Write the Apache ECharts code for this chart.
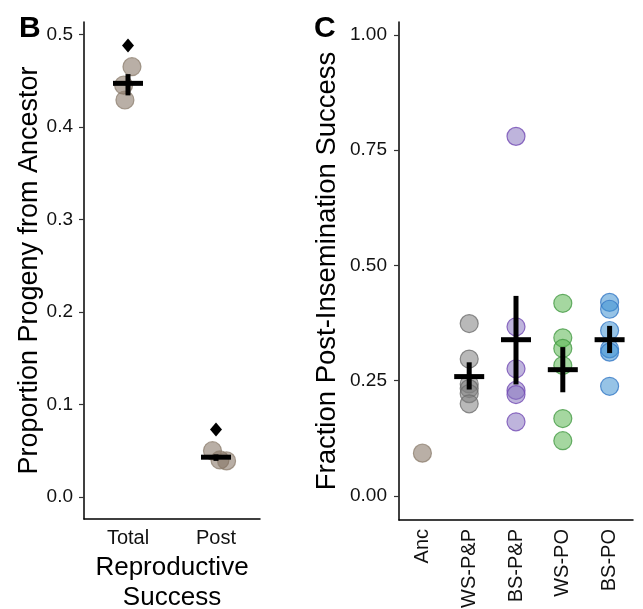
<!DOCTYPE html>
<html>
<head>
<meta charset="utf-8">
<script src="https://cdn.jsdelivr.net/npm/echarts@6/dist/echarts.min.js"></script>
<style>html,body{margin:0;padding:0;background:#fff;}#c{width:643px;height:609px;}</style>
</head>
<body>
<div id="c"></div>
<script>
// ---- Panel B data ----
const bCategories = ['Total', 'Post'];
const bTotalVals = [0.465, 0.445, 0.429];
const bTotalJitter = [0.045, -0.05, -0.035];
const bPostVals = [0.050, 0.040, 0.039];
const bPostJitter = [-0.04, 0.045, 0.12];
const bDiamondVals = [0.488, 0.073];
const bMeans = [0.447, 0.043];
const bLow = [0.434, 0.039];
const bHigh = [0.457, 0.046];
const bYTicks = [0, 0.1, 0.2, 0.3, 0.4, 0.5];

// ---- Panel C data ----
const cCategories = ['Anc', 'WS-P&P', 'BS-P&P', 'WS-PO', 'BS-PO'];
const cAnc = [0.093];
const cWSPP = [0.374, 0.297, 0.243, 0.233, 0.222, 0.200];
const cBSPP = [0.780, 0.367, 0.276, 0.229, 0.220, 0.161];
const cWSPO = [0.418, 0.343, 0.320, 0.283, 0.168, 0.120];
const cBSPO = [0.420, 0.405, 0.359, 0.319, 0.312, 0.238];
const cMeans = [0.259, 0.339, 0.274, 0.339];
const cLow = [0.231, 0.242, 0.225, 0.310];
const cHigh = [0.290, 0.434, 0.323, 0.369];
const cMeanCats = ['WS-P&P', 'BS-P&P', 'WS-PO', 'BS-PO'];
const cYTicks = [0, 0.25, 0.5, 0.75, 1.0];

const FONT = 'Liberation Sans, Arial, Helvetica, sans-serif';
const chart = echarts.init(document.getElementById('c'), null, {renderer: 'canvas'});

function crossRender(halfW) {
  return function (params, api) {
    const x = api.value(0), m = api.value(1), lo = api.value(2), hi = api.value(3);
    const c = api.coord([x, m]);
    const pl = api.coord([x, lo]);
    const ph = api.coord([x, hi]);
    const st = {stroke: '#000', lineWidth: 5, lineCap: 'butt'};
    return {
      type: 'group',
      children: [
        {type: 'line', shape: {x1: c[0], y1: pl[1], x2: c[0], y2: ph[1]}, style: st},
        {type: 'line', shape: {x1: c[0] - halfW, y1: c[1], x2: c[0] + halfW, y2: c[1]}, style: st}
      ]
    };
  };
}

function dotSeries(name, xIdx, yIdx, data, fill, border) {
  return {
    name: name, type: 'scatter', xAxisIndex: xIdx, yAxisIndex: yIdx,
    symbol: 'circle', symbolSize: 18, data: data,
    itemStyle: {color: fill, borderColor: border, borderWidth: 1.2, opacity: 1},
    emphasis: {disabled: true}, z: 2
  };
}

const axisLineStyle = {onZero: false, lineStyle: {color: '#000', width: 1.5}};
const tickStyle = {lineStyle: {color: '#333', width: 1.2}};
const yLabel = {color: '#111', fontSize: 19, fontFamily: FONT};
const xLabel = {color: '#111', fontSize: 20, fontFamily: FONT};

const tan = 'rgba(128,110,92,0.55)', tanB = 'rgba(140,125,110,0.75)';

const option = {
  animation: false,
  backgroundColor: '#fff',
  grid: [
    {left: 84, top: 22, width: 176, height: 497, containLabel: false, outerBoundsMode: 'none'},
    {left: 399, top: 22, width: 234, height: 498, containLabel: false, outerBoundsMode: 'none'}
  ],
  xAxis: [
    {
      type: 'category', gridIndex: 0, data: bCategories, boundaryGap: true,
      axisLine: axisLineStyle,
      axisTick: Object.assign({alignWithLabel: true, length: 5}, tickStyle),
      axisLabel: Object.assign({margin: 9}, xLabel),
      name: 'Reproductive\nSuccess', nameLocation: 'middle', nameGap: 31,
      nameTextStyle: {color: '#000', fontSize: 26, fontFamily: FONT, lineHeight: 30, verticalAlign: 'top'}
    },
    {
      type: 'category', gridIndex: 1, data: cCategories, boundaryGap: true,
      axisLine: axisLineStyle,
      axisTick: Object.assign({alignWithLabel: true, length: 5}, tickStyle),
      axisLabel: Object.assign({margin: 9, rotate: 90, interval: 0}, xLabel)
    },
    {type: 'value', gridIndex: 0, min: 0.5, max: 2.5, show: false}
  ],
  yAxis: [
    {
      type: 'value', gridIndex: 0, min: -0.0238, max: 0.5133,
      splitLine: {show: false},
      axisLine: Object.assign({show: true}, axisLineStyle),
      axisTick: Object.assign({show: true, length: 5, customValues: bYTicks}, tickStyle),
      axisLabel: Object.assign({margin: 11, customValues: bYTicks, formatter: v => v.toFixed(1)}, yLabel),
      name: 'Proportion Progeny from Ancestor', nameLocation: 'middle', nameRotate: 90, nameGap: 40,
      nameTextStyle: {color: '#000', fontSize: 27, fontFamily: FONT}
    },
    {
      type: 'value', gridIndex: 1, min: -0.052, max: 1.028,
      splitLine: {show: false},
      axisLine: Object.assign({show: true}, axisLineStyle),
      axisTick: Object.assign({show: true, length: 5, customValues: cYTicks}, tickStyle),
      axisLabel: Object.assign({margin: 12, customValues: cYTicks, formatter: v => v.toFixed(2)}, yLabel),
      name: 'Fraction Post-Insemination Success', nameLocation: 'middle', nameRotate: 90, nameGap: 58,
      nameTextStyle: {color: '#000', fontSize: 27.5, fontFamily: FONT}
    }
  ],
  graphic: [
    {type: 'text', left: 19, top: 14, style: {text: 'B', fontSize: 30, fontFamily: FONT, fontWeight: 'bold', fill: '#000'}},
    {type: 'text', left: 314, top: 14, style: {text: 'C', fontSize: 30, fontFamily: FONT, fontWeight: 'bold', fill: '#000'}}
  ],
  series: [
    dotSeries('Total', 2, 0, bTotalVals.map((v, i) => [1 + bTotalJitter[i], v]), tan, tanB),
    dotSeries('Post', 2, 0, bPostVals.map((v, i) => [2 + bPostJitter[i], v]), tan, tanB),
    {
      name: 'outlier', type: 'scatter', xAxisIndex: 0, yAxisIndex: 0,
      symbol: 'diamond', symbolSize: [12, 14],
      data: bDiamondVals.map((v, i) => [bCategories[i], v]),
      itemStyle: {color: '#000', opacity: 1}, z: 4
    },
    {
      name: 'B mean', type: 'custom', xAxisIndex: 0, yAxisIndex: 0,
      renderItem: crossRender(15),
      data: bMeans.map((m, i) => [i, m, bLow[i], bHigh[i]]), z: 5
    },
    dotSeries('Anc', 1, 1, cAnc.map(v => ['Anc', v]), tan, tanB),
    dotSeries('WS-P&P', 1, 1, cWSPP.map(v => ['WS-P&P', v]), 'rgba(128,128,128,0.55)', 'rgba(105,105,105,0.75)'),
    dotSeries('BS-P&P', 1, 1, cBSPP.map(v => ['BS-P&P', v]), 'rgba(137,119,191,0.55)', 'rgba(115,75,180,0.8)'),
    dotSeries('WS-PO', 1, 1, cWSPO.map(v => ['WS-PO', v]), 'rgba(91,182,82,0.55)', 'rgba(60,150,60,0.75)'),
    dotSeries('BS-PO', 1, 1, cBSPO.map(v => ['BS-PO', v]), 'rgba(64,146,209,0.55)', 'rgba(45,115,195,0.75)'),
    {
      name: 'C mean', type: 'custom', xAxisIndex: 1, yAxisIndex: 1,
      renderItem: crossRender(15),
      data: cMeans.map((m, i) => [cCategories.indexOf(cMeanCats[i]), m, cLow[i], cHigh[i]]), z: 5
    }
  ]
};
chart.setOption(option);
</script>
</body>
</html>
